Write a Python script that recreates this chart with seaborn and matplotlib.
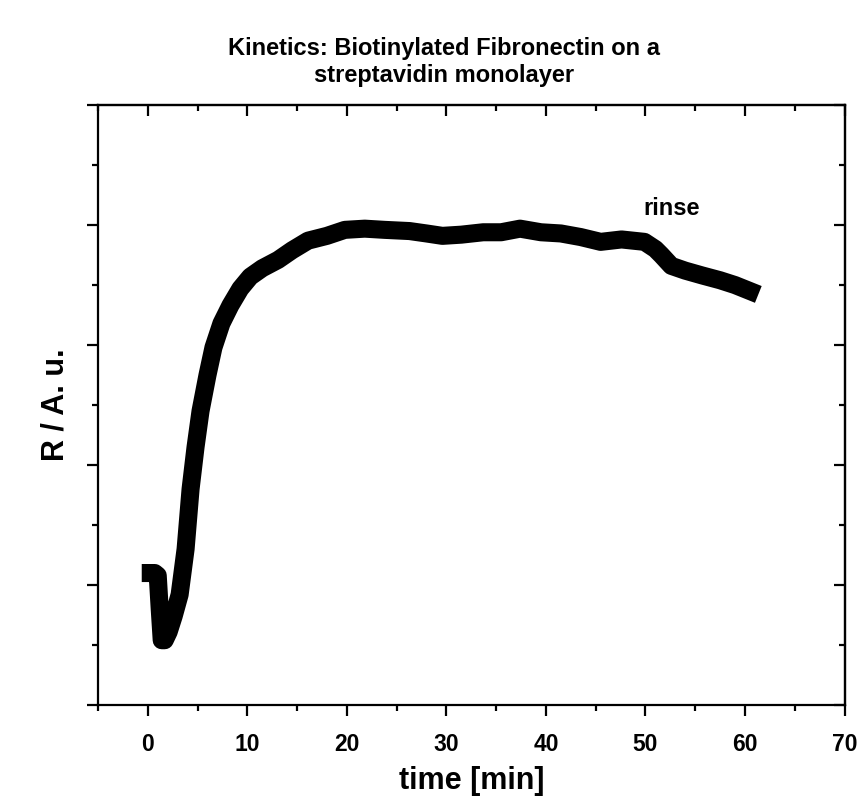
import pandas as pd
import matplotlib
matplotlib.use("Agg")
import matplotlib.pyplot as plt
from matplotlib.ticker import MultipleLocator, NullFormatter
import seaborn as sns

# data (time in min, reflectivity in arbitrary units)
time_min = [0.3, 0.7, 1.0, 1.2, 1.4, 1.7, 2.1, 2.6, 3.2, 3.8, 4.3, 4.8, 5.3,
            6.0, 6.6, 7.4, 8.3, 9.3, 10.3, 11.5, 13.1, 14.5, 16.1, 18.0,
            19.8, 21.8, 23.8, 26.3, 28.0, 29.6, 31.5, 33.7, 35.5, 37.4,
            39.5, 41.5, 43.5, 45.5, 47.6, 49.9, 51.0, 51.6, 52.6, 54.0,
            55.7, 57.5, 59.0, 60.5]
signal = [1.10, 1.10, 1.08, 0.80, 0.54, 0.54, 0.61, 0.74, 0.92, 1.30, 1.80,
          2.15, 2.45, 2.75, 2.98, 3.18, 3.33, 3.47, 3.57, 3.64, 3.71, 3.79,
          3.87, 3.91, 3.96, 3.97, 3.96, 3.95, 3.93, 3.91, 3.92, 3.94, 3.94,
          3.97, 3.94, 3.93, 3.90, 3.86, 3.88, 3.86, 3.80, 3.75, 3.66, 3.62,
          3.58, 3.54, 3.50, 3.45]

title = "Kinetics: Biotinylated Fibronectin on a\nstreptavidin monolayer"
x_ticks = [0, 10, 20, 30, 40, 50, 60, 70]

sns.set_style("ticks")
plt.rcParams['font.family'] = ['Liberation Sans', 'DejaVu Sans']
plt.rcParams['font.weight'] = 'bold'
plt.rcParams['text.color'] = 'black'
plt.rcParams['axes.labelcolor'] = 'black'
plt.rcParams['xtick.color'] = 'black'
plt.rcParams['ytick.color'] = 'black'

df = pd.DataFrame({"time": time_min, "R": signal})

fig = plt.figure(figsize=(8.62, 7.96), dpi=100)
ax = fig.add_axes([0.1137, 0.1143, 0.866, 0.7537])

sns.lineplot(data=df, x="time", y="R", ax=ax, color="black",
             linewidth=13, solid_capstyle="projecting", solid_joinstyle="round")

ax.set_xlim(-5, 70)
ax.set_ylim(0, 5)
ax.set_xticks(x_ticks)
ax.xaxis.set_minor_locator(MultipleLocator(5))
ax.yaxis.set_major_locator(MultipleLocator(1))
ax.yaxis.set_minor_locator(MultipleLocator(0.5))
ax.yaxis.set_major_formatter(NullFormatter())

for side in ax.spines.values():
    side.set_linewidth(1.6)
    side.set_color("black")

ax.tick_params(which="both", direction="out", width=1.6, colors="black",
               top=False, right=False)
ax.tick_params(which="major", length=8, labelsize=16.5, pad=12)
ax.tick_params(which="minor", length=4.5)

# inward ticks on the top and right side
tw = ax.secondary_xaxis("top")
tw.set_xticks(x_ticks)
tw.xaxis.set_minor_locator(MultipleLocator(5))
tw.tick_params(which="both", direction="in", width=1.6, labeltop=False)
tw.tick_params(which="major", length=8)
tw.tick_params(which="minor", length=4.5)
rw = ax.secondary_yaxis("right")
rw.yaxis.set_major_locator(MultipleLocator(1))
rw.yaxis.set_minor_locator(MultipleLocator(0.5))
rw.yaxis.set_major_formatter(NullFormatter())
rw.tick_params(which="both", direction="in", width=1.6)
rw.tick_params(which="major", length=8)
rw.tick_params(which="minor", length=4.5)
for s in (tw, rw):
    for sp in s.spines.values():
        sp.set_linewidth(1.6)

ax.set_xlabel("time [min]", fontsize=22, fontweight="bold", labelpad=7)
ax.set_ylabel("R / A. u.", fontsize=22, fontweight="bold", labelpad=0)
ax.text(52.6, 4.14, "rinse", fontsize=17, fontweight="bold", ha="center", va="center")

fig.text(0.515, 0.922, title, ha="center", va="center", fontsize=17,
         fontweight="bold", linespacing=1.25)

fig.savefig("out.png", dpi=100)
